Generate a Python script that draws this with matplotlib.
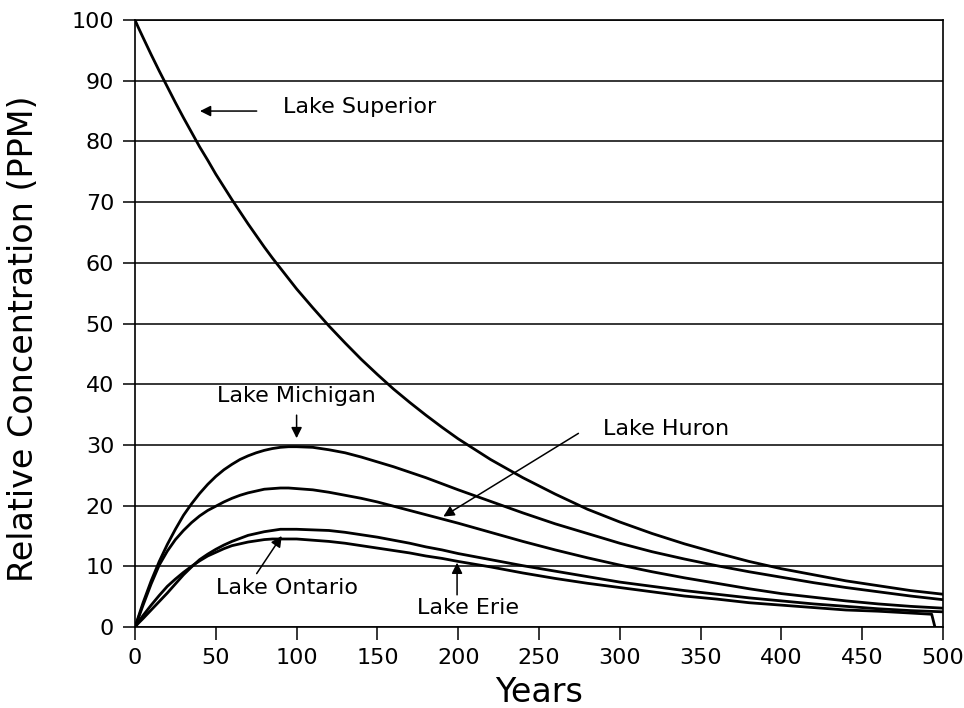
import matplotlib
matplotlib.use("Agg")
import matplotlib.pyplot as plt

# ---- data ----
years = [0, 2, 5, 10, 15, 20, 25, 30, 35, 40, 45, 50, 55, 60, 65, 70, 75, 80, 85, 90,
         95, 100, 110, 120, 130, 140, 150, 160, 170, 180, 190, 200, 220, 240, 260,
         280, 300, 320, 340, 360, 380, 400, 420, 440, 460, 480, 500]

superior = [100, 98.8, 97.1, 94.3, 91.6, 89.0, 86.4, 83.9, 81.5, 79.1, 76.9, 74.6,
            72.5, 70.4, 68.4, 66.4, 64.5, 62.6, 60.8, 59.1, 57.4, 55.7, 52.6, 49.6,
            46.8, 44.1, 41.6, 39.2, 37.0, 34.9, 32.9, 31.0, 27.6, 24.6, 21.9, 19.4,
            17.3, 15.4, 13.7, 12.2, 10.8, 9.6, 8.6, 7.6, 6.8, 6.0, 5.4]
michigan = [0, 1.6, 4.0, 7.6, 10.8, 13.6, 16.1, 18.4, 20.3, 22.0, 23.5, 24.8,
            25.9, 26.8, 27.6, 28.2, 28.7, 29.1, 29.4, 29.6, 29.7, 29.7, 29.6, 29.2,
            28.7, 28.0, 27.2, 26.4, 25.5, 24.6, 23.6, 22.6, 20.7, 18.8, 17.0, 15.4,
            13.8, 12.4, 11.2, 10.1, 9.1, 8.2, 7.3, 6.5, 5.8, 5.1, 4.5]
huron = [0, 1.4, 3.6, 7.1, 10.2, 12.5, 14.4, 15.9, 17.2, 18.3, 19.2, 19.9,
         20.6, 21.2, 21.7, 22.1, 22.4, 22.7, 22.8, 22.9, 22.9, 22.8, 22.6, 22.2,
         21.7, 21.2, 20.6, 19.9, 19.2, 18.5, 17.8, 17.1, 15.6, 14.1, 12.7, 11.4,
         10.2, 9.1, 8.1, 7.2, 6.3, 5.5, 4.9, 4.3, 3.8, 3.4, 3.1]
ontario = [0, 0.6, 1.4, 2.8, 4.2, 5.6, 7.1, 8.6, 9.9, 11.1, 12.0, 12.8,
           13.5, 14.1, 14.6, 15.1, 15.4, 15.7, 15.9, 16.1, 16.1, 16.1, 16.0, 15.9,
           15.6, 15.2, 14.8, 14.3, 13.8, 13.2, 12.7, 12.1, 11.1, 10.1, 9.2, 8.3,
           7.4, 6.7, 6.0, 5.4, 4.8, 4.3, 3.8, 3.4, 3.0, 2.7, 2.5]
erie_years = [0, 2, 5, 10, 15, 20, 25, 30, 35, 40, 45, 50, 55, 60, 65, 70, 75, 80, 85,
              90, 95, 100, 110, 120, 130, 140, 150, 160, 170, 180, 190, 200, 220, 240,
              260, 280, 300, 320, 340, 360, 380, 400, 420, 440, 460, 480, 493, 495]
erie = [0, 0.8, 1.9, 3.6, 5.2, 6.7, 7.9, 9.0, 10.0, 10.9, 11.7, 12.3,
        12.9, 13.4, 13.7, 14.0, 14.2, 14.4, 14.5, 14.5, 14.5, 14.5, 14.3, 14.1,
        13.8, 13.4, 13.0, 12.6, 12.2, 11.7, 11.3, 10.8, 9.9, 8.9, 8.0, 7.2,
        6.5, 5.8, 5.1, 4.6, 4.0, 3.6, 3.2, 2.8, 2.6, 2.3, 2.1, 0]

x_ticks = [0, 50, 100, 150, 200, 250, 300, 350, 400, 450, 500]
y_ticks = [0, 10, 20, 30, 40, 50, 60, 70, 80, 90, 100]

plt.rcParams['font.family'] = ['DejaVu Sans']

fig = plt.figure(figsize=(9.64, 7.08), dpi=100)
ax = fig.add_axes([135/964, 1-627/708, (943-135)/964, (627-20)/708])

for yv in y_ticks:
    ax.axhline(yv, color='black', lw=1.1, zorder=1)

lw = 2.0
for ys in (superior, michigan, huron, ontario):
    ax.plot(years, ys, color='black', lw=lw, zorder=3, solid_joinstyle='round')
ax.plot(erie_years, erie, color='black', lw=lw, zorder=3, solid_joinstyle='round')

ax.set_xlim(0, 500)
ax.set_ylim(0, 100)
ax.set_xticks(x_ticks)
ax.set_yticks(y_ticks)
ax.tick_params(direction='out', length=9, width=1.1, labelsize=16, pad=6)
for s in ax.spines.values():
    s.set_linewidth(1.2)

ax.set_xlabel('Years', fontsize=24, labelpad=6)
ax.set_ylabel('Relative Concentration (PPM)', fontsize=24)
ax.yaxis.set_label_coords(-0.118, 0.475)

ap = dict(arrowstyle='-|>', color='black', lw=1.1, mutation_scale=16, shrinkA=0, shrinkB=0)
fs = 16
ax.text(91.5, 85.6, 'Lake Superior', fontsize=fs, va='center', ha='left')
ax.annotate('', xy=(40.2, 85.0), xytext=(75.3, 85.0), arrowprops=ap)

ax.text(50.5, 38.0, 'Lake Michigan', fontsize=fs, va='center', ha='left')
ax.annotate('', xy=(100, 31.1), xytext=(100, 34.9), arrowprops=ap)

ax.text(289.6, 32.6, 'Lake Huron', fontsize=fs, va='center', ha='left')
ax.annotate('', xy=(190.8, 18.2), xytext=(274.4, 31.9), arrowprops=ap)

ax.text(50.1, 6.4, 'Lake Ontario', fontsize=fs, va='center', ha='left')
ax.annotate('', xy=(90.8, 15.0), xytext=(75.3, 8.8), arrowprops=ap)

ax.text(174.5, 3.2, 'Lake Erie', fontsize=fs, va='center', ha='left')
ax.annotate('', xy=(199.3, 10.6), xytext=(199.3, 5.3), arrowprops=ap)

fig.savefig('out.png', dpi=100)
